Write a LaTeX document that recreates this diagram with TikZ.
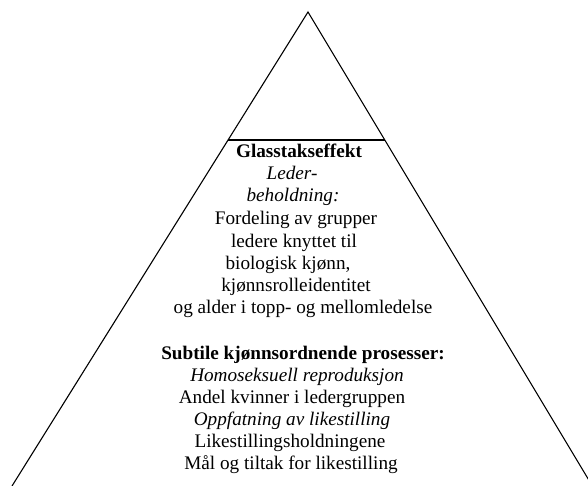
\documentclass[tikz,border=0pt]{standalone}
\usepackage{fontspec}
\setmainfont{Liberation Serif}
\begin{document}
\begin{tikzpicture}[x=1pt,y=-1pt,
  txt/.style={anchor=base, inner sep=0pt, font=\fontsize{19.2}{22}\selectfont},
  edge/.style={line width=1.1pt, black}]
\useasboundingbox (0,0) rectangle (588,486);
\clip (0,0) rectangle (588,486);
\coordinate (apex) at (308,12);
\coordinate (bl) at (12,486);
\coordinate (br) at (592.4,486);
\draw[edge] (bl) -- (apex) -- (br);
\coordinate (gl) at (228,140);
\coordinate (gr) at (385,140);
\draw[edge] (gl) -- (gr);
\node[txt] (t1) at (299,158) {\textbf{Glasstakseffekt}};
\node[txt] (t2) at (292,180) {\textit{Leder-}};
\node[txt] (t3) at (293,202) {\textit{beholdning:}};
\node[txt] (t4) at (296,225) {Fordeling av grupper};
\node[txt] (t5) at (294,247) {ledere knyttet til};
\node[txt] (t6) at (288,269) {biologisk kjønn,};
\node[txt] (t7) at (296,291) {kjønnsrolleidentitet};
\node[txt] (t8) at (303,313) {og alder i topp- og mellomledelse};
\node[txt] (s1) at (303,359) {\textbf{Subtile kjønnsordnende prosesser:}};
\node[txt] (s2) at (297,381) {\textit{Homoseksuell reproduksjon}};
\node[txt] (s3) at (292,403) {Andel kvinner i ledergruppen};
\node[txt] (s4) at (292,425) {\textit{Oppfatning av likestilling}};
\node[txt] (s5) at (290,447) {Likestillingsholdningene};
\node[txt] (s6) at (291,469) {Mål og tiltak for likestilling};
\end{tikzpicture}
\end{document}
